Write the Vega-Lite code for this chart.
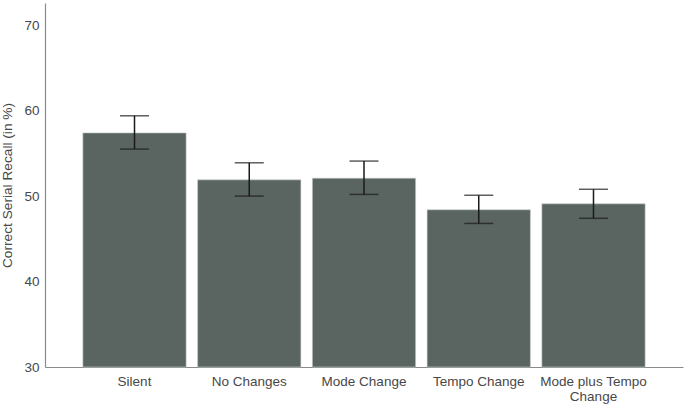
{
  "$schema": "https://vega.github.io/schema/vega-lite/v6.json",
  "width": 638,
  "height": 364,
  "autosize": {"type": "none"},
  "padding": {"left": 45, "top": 3, "right": 2, "bottom": 37},
  "background": "white",
  "config": {
    "view": {"stroke": null},
    "font": "Liberation Sans",
    "axis": {"grid": false, "ticks": false, "domainColor": "#8a8a8a", "domainWidth": 1.2, "labelColor": "#484848", "labelFontSize": 13.5, "titleFontSize": 13.7, "titleColor": "#484848", "titleFontWeight": "normal"}
  },
  "data": {
    "values": [
      {"condition": "Silent", "mean": 57.4, "lo": 55.5, "hi": 59.4},
      {"condition": "No Changes", "mean": 51.9, "lo": 50.0, "hi": 53.9},
      {"condition": "Mode Change", "mean": 52.1, "lo": 50.2, "hi": 54.1},
      {"condition": "Tempo Change", "mean": 48.4, "lo": 46.8, "hi": 50.1},
      {"condition": "Mode plus Tempo Change", "mean": 49.1, "lo": 47.4, "hi": 50.8}
    ]
  },
  "encoding": {
    "x": {
      "field": "condition", "type": "nominal", "sort": null,
      "scale": {"paddingInner": 0.1, "paddingOuter": 0.33},
      "axis": {"title": null, "labelAngle": 0, "labelPadding": 7,
        "labelExpr": "datum.label == 'Mode plus Tempo Change' ? ['Mode plus Tempo', 'Change'] : datum.label"}
    }
  },
  "layer": [
    {
      "mark": {"type": "bar", "color": "#5a6561", "stroke": "#c8cdcb", "strokeWidth": 0.6},
      "encoding": {
        "y": {"field": "mean", "type": "quantitative",
          "scale": {"domain": [30, 72.6], "nice": false, "zero": false},
          "axis": {"title": "Correct Serial Recall (in %)", "values": [30, 40, 50, 60, 70], "labelPadding": 6, "titlePadding": 9}},
        "y2": {"datum": 30}
      }
    },
    {
      "mark": {"type": "rule", "color": "#1a1a1a", "strokeWidth": 1.5},
      "encoding": {
        "y": {"field": "lo", "type": "quantitative"},
        "y2": {"field": "hi"}
      }
    },
    {
      "mark": {"type": "tick", "color": "#1a1a1a", "size": 29, "thickness": 1.5},
      "encoding": {"y": {"field": "hi", "type": "quantitative"}}
    },
    {
      "mark": {"type": "tick", "color": "#1a1a1a", "size": 29, "thickness": 1.5},
      "encoding": {"y": {"field": "lo", "type": "quantitative"}}
    }
  ]
}
